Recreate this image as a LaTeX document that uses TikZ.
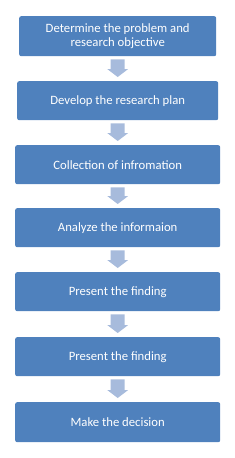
\documentclass[tikz,border=0pt]{standalone}
\usepackage{fontspec}
\setmainfont{Carlito}
\usetikzlibrary{calc}
\definecolor{boxblue}{HTML}{4F81BD}
\definecolor{arrowblue}{HTML}{A7BBDC}
\begin{document}
\begin{tikzpicture}[x=1pt,y=-1pt,
  stepbox/.style={fill=boxblue, draw=none, rounded corners=2pt, text=white, font=\fontsize{12.7}{14.5}\selectfont, align=center, inner sep=0pt, anchor=north west},
  blockarrow/.style={fill=arrowblue, draw=none}]
\useasboundingbox (0,0) rectangle (235,458);
\node[stepbox, minimum width=197pt, minimum height=40pt] (s1) at (19,16) {Determine the problem and\\research objective};
\node[stepbox, minimum width=201pt, minimum height=39pt] (s2) at (17,81) {Develop the research plan};
\node[stepbox, minimum width=205pt, minimum height=39pt] (s3) at (15,145) {Collection of infromation};
\node[stepbox, minimum width=205pt, minimum height=39pt] (s4) at (15,208) {Analyze the informaion};
\node[stepbox, minimum width=205pt, minimum height=39pt] (s5) at (15,272) {Present the finding};
\node[stepbox, minimum width=205pt, minimum height=39pt] (s6) at (15,337) {Present the finding};
\node[stepbox, minimum width=205pt, minimum height=40pt] (s7) at (15,402) {Make the  decision};
\foreach \a/\b in {s1/s2,s2/s3,s3/s4,s4/s5,s5/s6,s6/s7}{
  \path (\a.south) ++(0,3) coordinate (\a top);
  \path (\b.north) ++(0,-4) coordinate (\a tip);
  \fill[blockarrow] ($(\a top)+(-7,0)$) -- ($(\a top)+(7,0)$) -- ($(\a tip)+(7,-8)$) -- ($(\a tip)+(10.5,-8)$) -- (\a tip) -- ($(\a tip)+(-10.5,-8)$) -- ($(\a tip)+(-7,-8)$) -- cycle;
}
\end{tikzpicture}
\end{document}
